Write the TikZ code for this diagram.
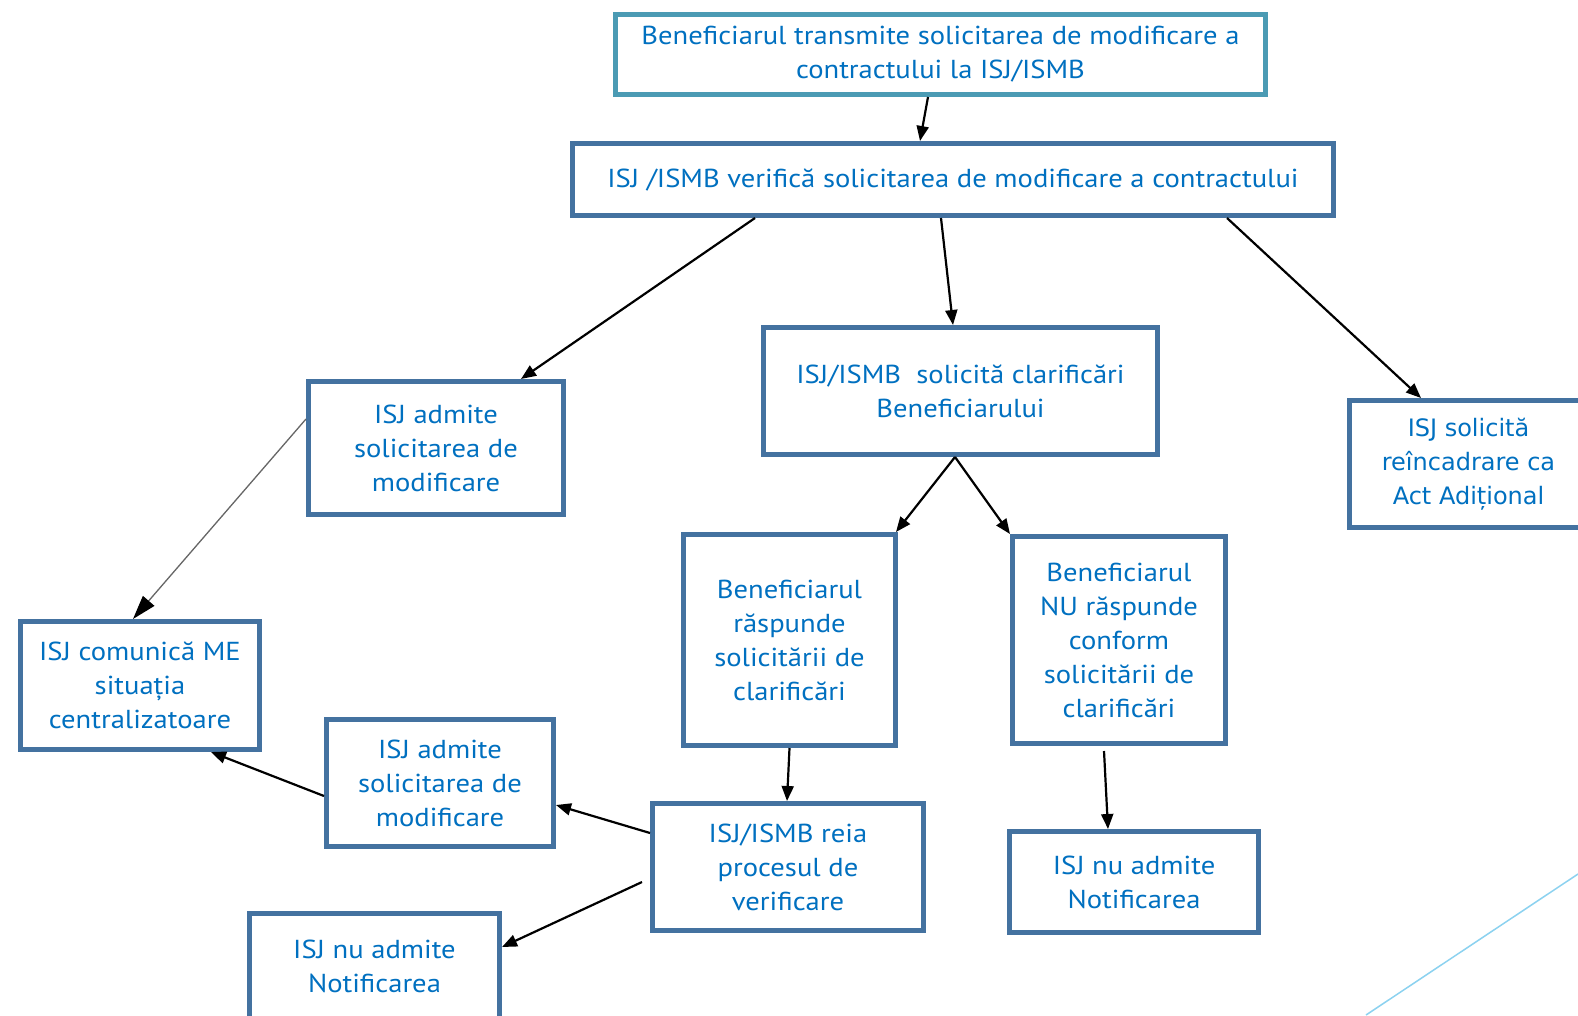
\documentclass[tikz,border=0pt]{standalone}
\usepackage{fontspec}
\setmainfont{PT Sans}[FakeStretch=1.1]
\newfontfamily\widefont{DejaVu Sans}
\usetikzlibrary{arrows.meta,calc}
\definecolor{boxc}{RGB}{68,114,160}
\definecolor{topc}{RGB}{75,155,180}
\definecolor{txtc}{RGB}{0,112,192}
\definecolor{diagc}{RGB}{140,210,240}
\tikzset{
  box/.style={draw=boxc, line width=5pt, text=txtc, align=center, inner sep=0pt,
    font=\fontsize{26}{34}\selectfont},
  topbox/.style={box, draw=topc},
  conn/.style={line width=2.2pt, -{Triangle[length=15pt,width=12pt]}},
  thinconn/.style={line width=1.3pt, draw=black!60, -{Triangle[length=24pt,width=15pt,fill=black,color=black]}},
}
\begin{document}
\begin{tikzpicture}[x=1pt,y=-1pt]
\useasboundingbox (0,0) rectangle (1578,1015);
\fill[white] (0,0) rectangle (1578,1015);
\clip (0,0) rectangle (1578,1015);

\node[topbox, minimum width=650pt, minimum height=80pt] (top) at (940.5,54.5)
  {Beneficiarul transmite solicitarea de modificare a\\contractului la ISJ/ISMB};
\node[box, minimum width=761pt, minimum height=72pt] (ver) at (953,179.5)
  {ISJ /ISMB verifică solicitarea de modificare a contractului};
\node[box, minimum width=255pt, minimum height=133pt] (adm1) at (436,448)
  {ISJ admite\\solicitarea de\\modificare};
\node[box, minimum width=394pt, minimum height=127pt] (clar) at (960.5,391)
  {ISJ/ISMB\ \ solicită clarificări\\Beneficiarului};
\node[box, minimum width=238pt, minimum height=127pt, font=\widefont\fontsize{24}{34}\selectfont] (re) at (1468.5,464)
  {ISJ solicită\\reîncadrare ca\\Act Adițional};
\node[box, minimum width=239pt, minimum height=128pt] (me) at (140,685.5)
  {ISJ comunică ME\\situația\\centralizatoare};
\node[box, minimum width=212pt, minimum height=211pt] (rasp) at (789.5,640)
  {Beneficiarul\\răspunde\\solicitării de\\clarificări};
\node[box, minimum width=213pt, minimum height=207pt] (nu) at (1119,640)
  {Beneficiarul\\NU răspunde\\conform\\solicitării de\\clarificări};
\node[box, minimum width=227pt, minimum height=127pt] (adm2) at (440,783)
  {ISJ admite\\solicitarea de\\modificare};
\node[box, minimum width=271pt, minimum height=127pt] (reia) at (788,867)
  {ISJ/ISMB reia\\procesul de\\verificare};
\node[box, minimum width=250pt, minimum height=105pt] (nuadm1) at (374.5,966)
  {ISJ nu admite\\Notificarea};
\node[box, minimum width=249pt, minimum height=101pt] (nuadm2) at (1134,882)
  {ISJ nu admite\\Notificarea};

\draw[conn] ([xshift=-12.5pt]top.south) -- ([xshift=-33pt]ver.north);
\draw[conn] ([xshift=-198pt]ver.south) -- ([xshift=85pt]adm1.north);
\draw[conn] ([xshift=-12pt]ver.south) -- ([xshift=-7.5pt]clar.north);
\draw[conn] ([xshift=274pt]ver.south) -- ([xshift=-47.5pt]re.north);
\draw[thinconn] ([yshift=29pt]adm1.west) -- ([xshift=-7pt]me.north);
\draw[conn] ([xshift=-5.5pt]clar.south) -- ([xshift=-2pt]rasp.north east);
\draw[conn] ([xshift=-5.5pt]clar.south) -- (nu.north west);
\draw[conn] (rasp.south) -- ([xshift=-1pt]reia.north);
\draw[conn] ([xshift=-15pt,yshift=-5pt]nu.south) -- ([xshift=-26pt]nuadm2.north);
\draw[conn] ([yshift=-13pt]adm2.west) -- ([xshift=71pt]me.south);
\draw[conn] ([yshift=34pt]reia.west) -- ([yshift=-22pt]adm2.east);
\draw[conn] ([xshift=-8pt,yshift=-15pt]reia.west) -- ([yshift=19pt]nuadm1.east);

\draw[diagc, line width=1.5pt] (1366,1015) -- (1578,874);
\end{tikzpicture}
\end{document}
